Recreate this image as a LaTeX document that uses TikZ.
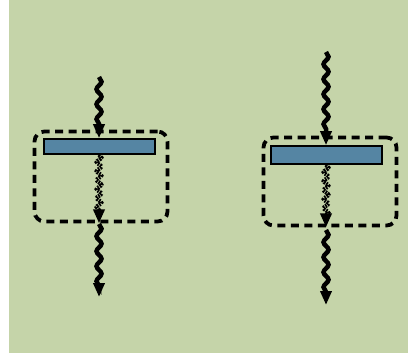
\documentclass[tikz,border=0pt]{standalone}
\usepackage{tikz}
\usetikzlibrary{decorations.pathmorphing}
\usetikzlibrary{arrows.meta}
\definecolor{palette_fond}{HTML}{C5D4A9}
\definecolor{palette_barre}{HTML}{5585A3}

\tikzset{
    barre/.style={draw=black, line width=1.6pt, fill=palette_barre, inner sep=0pt},
    cadre/.style={draw=black, line width=3.8pt, dash pattern=on 8pt off 5.5pt, rounded corners=10pt, inner sep=0pt},
    onde/.style={line width=4.5pt, decorate, decoration={snake, amplitude=2.5pt, segment length=15pt, post length=11pt},
        -{Triangle[width=11pt,length=14pt]}},
    ondefaible/.style={onde, line width=4pt, dash pattern=on 1.6pt off 0.9pt, decoration={snake, amplitude=2.4pt, segment length=9pt, post length=11pt}}
}

\begin{document}
\begin{tikzpicture}[x=1pt,y=-1pt]
    \useasboundingbox (0,0) rectangle (409,353);
    \fill[palette_fond] (9,0) rectangle (408,353);

    % gauche
    \node[cadre, minimum width=133pt, minimum height=90pt] (cadreA) at (101,176.5) {};
    \node[barre, minimum width=111pt, minimum height=15pt] (barreA) at (99.5,146.5) {};
    \coordinate (hautA) at (99,77);
    \coordinate (basA) at (99,297);
    \coordinate (sortieA) at (99,224);
    \draw[onde] (hautA) -- (barreA.north -| hautA);
    \draw[ondefaible] (barreA.south -| hautA) -- (cadreA.south -| hautA);
    \draw[onde] (sortieA) -- (basA);

    % droite
    \node[cadre, minimum width=133pt, minimum height=88pt] (cadreB) at (330,181.5) {};
    \node[barre, minimum width=111pt, minimum height=18pt] (barreB) at (326.5,155) {};
    \coordinate (hautB) at (326,52);
    \coordinate (basB) at (326,305);
    \coordinate (sortieB) at (326,230);
    \draw[onde] (hautB) -- (barreB.north -| hautB);
    \draw[ondefaible] (barreB.south -| hautB) -- (cadreB.south -| hautB);
    \draw[onde] (sortieB) -- (basB);

\end{tikzpicture}
\end{document}
